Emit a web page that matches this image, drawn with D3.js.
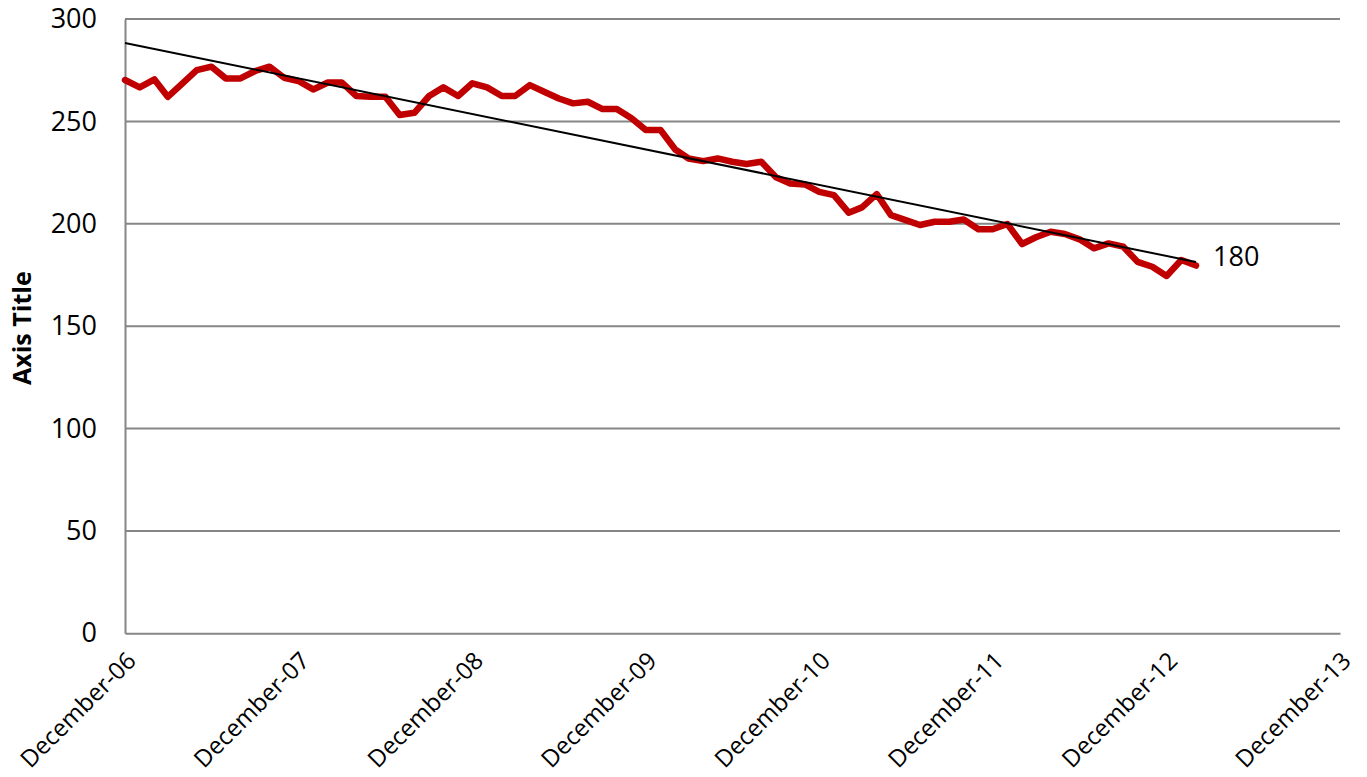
<!DOCTYPE html>
<html>
<head>
<meta charset="utf-8">
<script src="https://cdn.jsdelivr.net/npm/d3@7"></script>
<style>
  html, body { margin: 0; padding: 0; background: #fff; }
  svg { display: block; }
  text { font-family: "Open Sans", "Noto Sans", sans-serif; fill: #000; }
</style>
</head>
<body>
<svg id="chart" width="1367" height="777"></svg>
<script>
// ---- data ----
const startMonth = "2006-12";   // first observation (monthly series)
const values = [
  270.2, 266.6, 270.5, 262.0, 268.6, 275.0, 276.7, 271.0, 271.0, 274.6, 276.7, 271.3,
  269.7, 265.6, 269.0, 269.0, 262.4, 262.0, 262.0, 253.1, 254.2, 262.4, 266.6, 262.4,
  268.6, 266.6, 262.4, 262.4, 267.7, 264.5, 261.2, 258.8, 259.6, 256.0, 256.0, 251.5,
  245.8, 245.8, 236.3, 231.9, 230.6, 231.9, 230.3, 229.2, 230.3, 222.7, 219.7, 219.2,
  215.6, 214.0, 205.4, 208.0, 214.5, 204.2, 201.8, 199.4, 201.0, 201.0, 202.1, 197.3,
  197.3, 199.9, 190.1, 193.4, 196.1, 195.0, 192.4, 188.0, 190.4, 188.8, 181.4, 179.0,
  174.5, 182.3, 179.6
];
const yTicks = [0, 50, 100, 150, 200, 250, 300];
const xTickYears = [2006, 2007, 2008, 2009, 2010, 2011, 2012, 2013];
const yAxisTitle = "Axis Title";

// ---- layout ----
const svg = d3.select("#chart");
const plotLeft = 125, plotRight = 1340, plotTop = 19, plotBottom = 633.3;

const [sy, sm] = startMonth.split("-").map(Number);
const dates = values.map((v, i) => new Date(Date.UTC(sy, sm - 1 + i, 1)));
const data = values.map((v, i) => ({ date: dates[i], value: v, i }));

const x = d3.scaleUtc()
  .domain([new Date(Date.UTC(xTickYears[0], 11, 1)), new Date(Date.UTC(xTickYears[xTickYears.length - 1], 11, 1))])
  .range([plotLeft, plotRight]);
const y = d3.scaleLinear().domain([0, 300]).range([plotBottom, plotTop]);

const gridColor = "#868686";

// gridlines
svg.append("g")
  .selectAll("line")
  .data(yTicks.filter(t => t > 0))
  .join("line")
  .attr("x1", plotLeft).attr("x2", plotRight)
  .attr("y1", d => y(d)).attr("y2", d => y(d))
  .attr("stroke", gridColor).attr("stroke-width", 2);

// y axis
const yAxis = svg.append("g")
  .attr("transform", `translate(${plotLeft},0)`)
  .call(d3.axisLeft(y).tickValues(yTicks).tickSize(0).tickPadding(28));
yAxis.select(".domain").attr("stroke", gridColor).attr("stroke-width", 2);
yAxis.selectAll("text")
  .style("font-family", '"Open Sans", sans-serif')
  .style("font-size", "27px")
  .attr("fill", "#000");

// x axis
const xTickDates = xTickYears.map(yr => new Date(Date.UTC(yr, 11, 1)));
const xAxis = svg.append("g")
  .attr("transform", `translate(0,${plotBottom})`)
  .call(d3.axisBottom(x).tickValues(xTickDates).tickSize(0).tickFormat(d3.utcFormat("%B-%y")));
xAxis.select(".domain").attr("stroke", gridColor).attr("stroke-width", 2);
xAxis.selectAll(".tick text")
  .style("font-family", '"Open Sans", sans-serif')
  .style("font-size", "24px")
  .attr("fill", "#000")
  .attr("text-anchor", "end")
  .attr("x", 0).attr("y", 0).attr("dy", "0.35em")
  .attr("transform", "translate(6,23) rotate(-45)");

// axis title
svg.append("text")
  .attr("transform", `translate(22,${(plotTop + plotBottom) / 2 + 2}) rotate(-90)`)
  .attr("text-anchor", "middle")
  .attr("dy", "0.35em")
  .style("font-size", "25px")
  .style("font-weight", "bold")
  .text(yAxisTitle);

// data line
const line = d3.line().x(d => x(d.date)).y(d => y(d.value));
svg.append("path")
  .datum(data)
  .attr("d", line)
  .attr("fill", "none")
  .attr("stroke", "#C00000")
  .attr("stroke-width", 6.5)
  .attr("stroke-linejoin", "round")
  .attr("stroke-linecap", "round");

// linear trendline (least squares over time)
const xs = data.map(d => +d.date), ys = data.map(d => d.value);
const mx = d3.mean(xs), my = d3.mean(ys);
const slope = d3.sum(xs.map((xv, k) => (xv - mx) * (ys[k] - my))) / d3.sum(xs.map(xv => (xv - mx) ** 2));
const icpt = my - slope * mx;
const trend = [data[0], data[data.length - 1]].map(d => ({ date: d.date, value: icpt + slope * +d.date }));
svg.append("path")
  .datum(trend)
  .attr("d", line)
  .attr("fill", "none")
  .attr("stroke", "#000")
  .attr("stroke-width", 2);

// last value label
const last = data[data.length - 1];
svg.append("text")
  .attr("x", x(last.date) + 17)
  .attr("y", y(last.value) - 9)
  .attr("dy", "0.35em")
  .style("font-size", "27px")
  .text(d3.format(".0f")(last.value));
</script>
</body>
</html>
